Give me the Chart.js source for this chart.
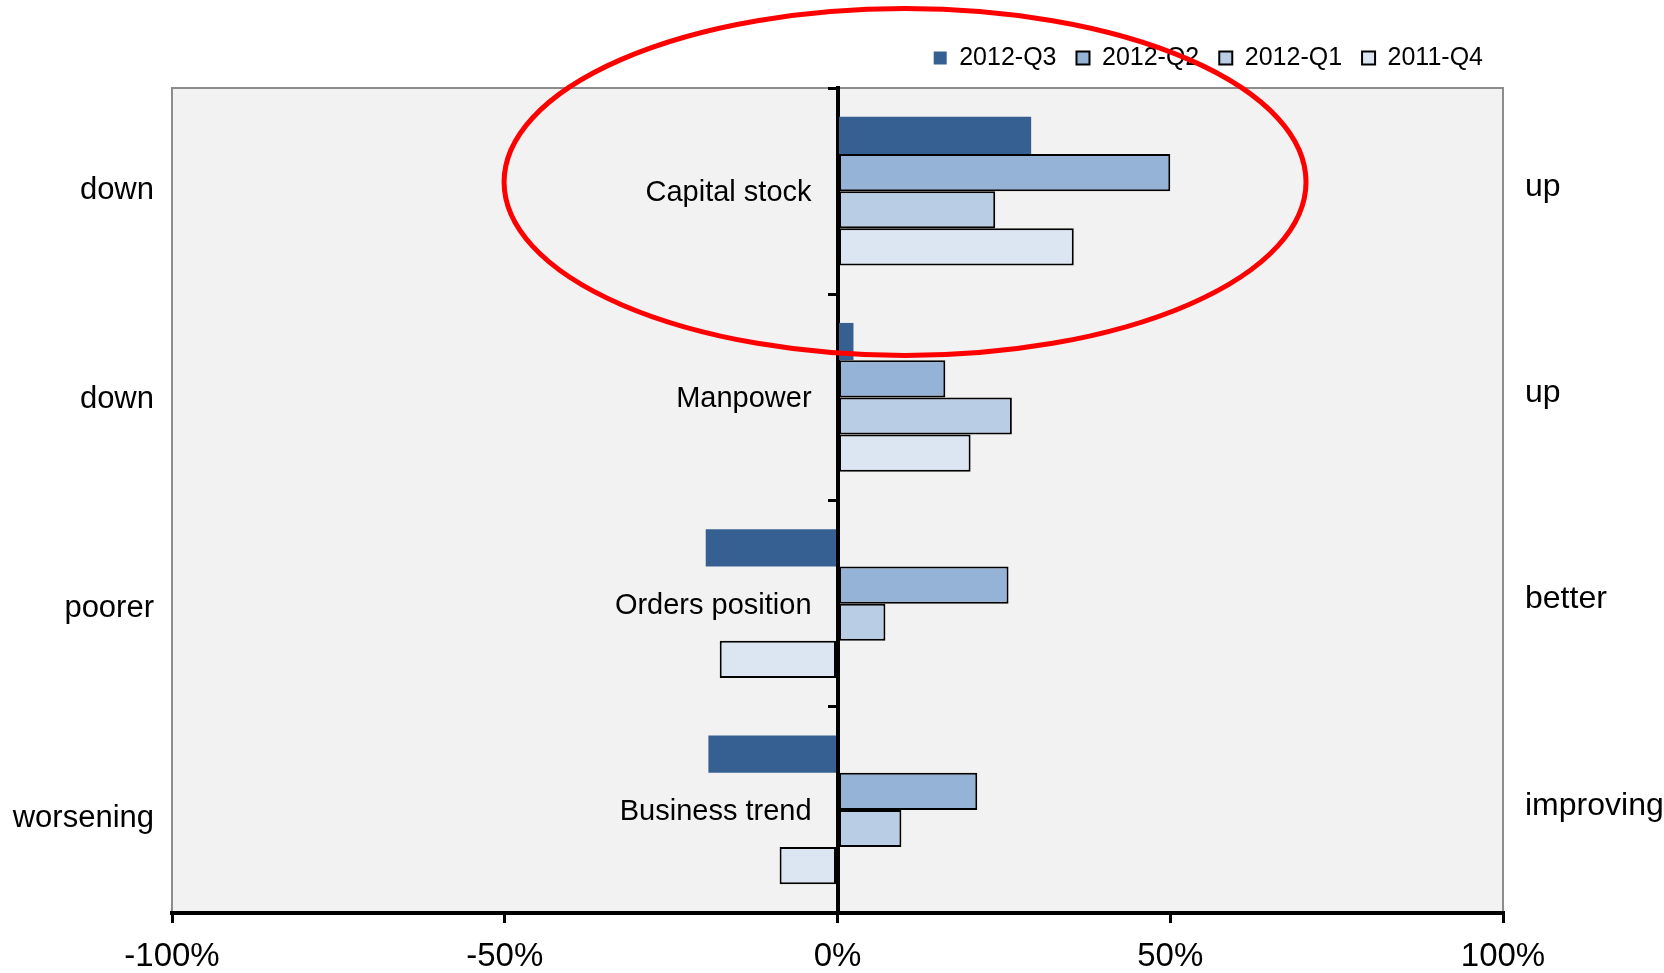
<!DOCTYPE html>
<html><head><meta charset="utf-8">
<script src="https://cdn.jsdelivr.net/npm/chart.js@4.4.1/dist/chart.umd.min.js"></script>
<style>html,body{margin:0;padding:0;background:#fff;overflow:hidden}canvas{display:block}</style>
</head><body>
<canvas id="c" width="1664" height="973"></canvas>
<script>
// ---- data ----
const categories = ['Capital stock', 'Manpower', 'Orders position', 'Business trend'];
const leftLabels = ['down', 'down', 'poorer', 'worsening'];
const rightLabels = ['up', 'up', 'better', 'improving'];
const seriesNames = ['2012-Q3', '2012-Q2', '2012-Q1', '2011-Q4'];
const q3_2012 = [29.1, 2.4, -19.8, -19.4];
const q2_2012 = [50.0, 16.2, 25.7, 21.0];
const q1_2012 = [23.7, 26.2, 7.2, 9.6];
const q4_2011 = [35.5, 20.0, -17.7, -8.7];
const xTickMin = -100, xTickMax = 100, xTickStep = 50;

const FONT = "'Liberation Sans', Arial, sans-serif";
Chart.defaults.font.family = FONT;
Chart.defaults.color = '#000';

const plotBg = {
  id: 'plotBg',
  beforeDraw(chart) {
    const {ctx, chartArea: a} = chart;
    ctx.save();
    ctx.fillStyle = '#f2f2f2';
    ctx.fillRect(a.left, a.top, a.right - a.left, a.bottom - a.top);
    ctx.strokeStyle = '#8c8c8c';
    ctx.lineWidth = 2;
    ctx.strokeRect(a.left, a.top, a.right - a.left, a.bottom - a.top);
    ctx.restore();
  }
};

const legendGap = {
  id: 'legendGap',
  beforeLayout(chart) {
    const lg = chart.legend;
    if (lg && !lg._gapPatched) {
      const f = lg.fit;
      lg.fit = function () { f.call(this); this.height += 7.5; };
      lg._gapPatched = true;
    }
  }
};

const highlight = {
  id: 'highlight',
  afterDraw(chart) {
    const {ctx, scales: {x, y}} = chart;
    const band = y.getPixelForValue(1) - y.getPixelForValue(0);
    const x1 = x.getPixelForValue(-50.1), x2 = x.getPixelForValue(70.4);
    const cx = (x1 + x2) / 2, rx = (x2 - x1) / 2;
    const cy = y.getPixelForValue(0) - 0.044 * band;
    const ry = 0.841 * band;
    ctx.save();
    ctx.beginPath();
    ctx.ellipse(cx, cy, rx, ry, 0, 0, Math.PI * 2);
    ctx.strokeStyle = '#ff0000';
    ctx.lineWidth = 5;
    ctx.stroke();
    ctx.restore();
  }
};

const mk = (label, data, bg, bw) => ({
  label, data, backgroundColor: bg, borderColor: '#000', borderWidth: bw,
  borderSkipped: false, barPercentage: 1, categoryPercentage: 0.722
});

const LEFT_MIN = -0.4889, LEFT_MAX = 3.4535;

new Chart(document.getElementById('c'), {
  type: 'bar',
  data: {
    labels: categories,
    datasets: [
      mk(seriesNames[0], q3_2012, '#376092', 0),
      mk(seriesNames[1], q2_2012, '#95b3d7', 2),
      mk(seriesNames[2], q1_2012, '#b9cde5', 2),
      mk(seriesNames[3], q4_2011, '#dce6f2', 2)
    ]
  },
  plugins: [plotBg, legendGap, highlight],
  options: {
    indexAxis: 'y',
    responsive: false,
    devicePixelRatio: 1,
    animation: false,
    layout: {padding: {top: 25.5, left: 0, right: 0, bottom: 0}},
    plugins: {
      tooltip: {enabled: false},
      legend: {
        position: 'top',
        align: 'end',
        fullSize: false,
        labels: {boxWidth: 13, boxHeight: 13, padding: 20, font: {size: 25}, color: '#000'}
      }
    },
    scales: {
      x: {
        type: 'linear', position: 'bottom',
        min: xTickMin, max: xTickMax,
        ticks: {stepSize: xTickStep, callback: v => v + '%', font: {size: 33}, padding: 14, maxRotation: 0},
        grid: {drawOnChartArea: false, drawTicks: true, tickLength: 10, color: '#000', lineWidth: 3},
        border: {display: true, color: '#000', width: 4},
        afterFit(s) { s.height = 60; }
      },
      y: {
        type: 'category', position: {x: 0}, offset: true, z: 1,
        ticks: {display: false},
        grid: {offset: true, drawOnChartArea: false, drawTicks: true, tickLength: 8, color: '#000', lineWidth: 3},
        border: {display: true, color: '#000', width: 4}
      },
      yc: {
        type: 'category', axis: 'y', labels: categories, position: {x: -3.9}, offset: true,
        ticks: {font: {size: 29}, padding: 0, color: '#000', labelOffset: 2},
        grid: {display: false, drawTicks: false},
        border: {display: false}
      },
      yl: {
        type: 'linear', axis: 'y', position: 'left', reverse: true, offset: false,
        min: LEFT_MIN, max: LEFT_MAX,
        afterBuildTicks(s) { s.ticks = leftLabels.map((_, i) => ({value: i})); },
        ticks: {font: {size: 31}, padding: 18, color: '#000', callback: v => leftLabels[v]},
        grid: {display: false, drawTicks: false, offset: false},
        border: {display: false},
        afterFit(s) { s.width = 172; }
      },
      yr: {
        type: 'category', axis: 'y', labels: rightLabels, position: 'right', offset: true,
        ticks: {font: {size: 32}, padding: 22, color: '#000', labelOffset: -4},
        grid: {display: false, drawTicks: false},
        border: {display: false},
        afterFit(s) { s.width = 161; }
      }
    }
  }
});
</script>
</body></html>
